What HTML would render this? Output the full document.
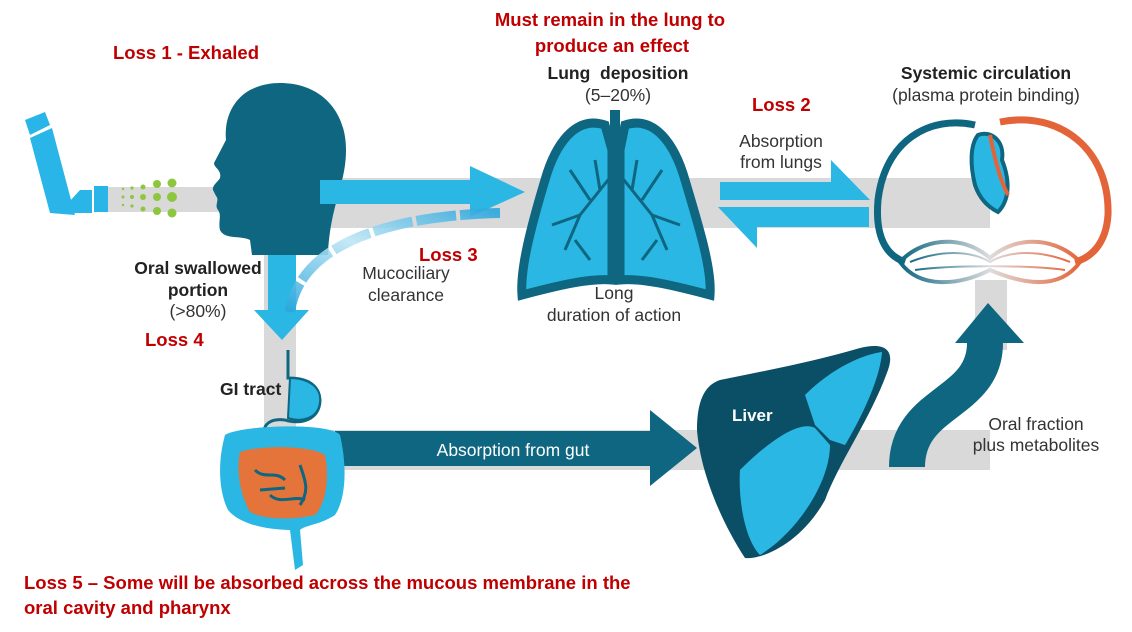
<!DOCTYPE html>
<html><head><meta charset="utf-8"><style>
html,body{margin:0;padding:0;background:#fff}
svg{display:block}
.r{font-family:"Liberation Sans",sans-serif;font-weight:bold;fill:#c00000;font-size:18.5px}
.t{font-family:"Liberation Sans",sans-serif;fill:#333;font-size:17.5px}
.b{font-family:"Liberation Sans",sans-serif;fill:#222;font-size:17.5px;font-weight:bold}
</style></head><body>
<svg width="1132" height="632" viewBox="0 0 1132 632" xmlns="http://www.w3.org/2000/svg">
<defs>
<linearGradient id="muc" x1="0" y1="1" x2="1" y2="0">
<stop offset="0" stop-color="#2aa6dd"/><stop offset="0.5" stop-color="#bfe6f5"/><stop offset="1" stop-color="#2aa6dd"/>
</linearGradient>
<linearGradient id="cap" x1="0" x2="1"><stop offset="0" stop-color="#0e6680"/><stop offset="0.5" stop-color="#ddd"/><stop offset="1" stop-color="#e4643a"/></linearGradient>
</defs>
<rect x="100" y="187" width="130" height="25" fill="#d9d9d9"/>
<rect x="300" y="178" width="690" height="50" fill="#d9d9d9"/>
<rect x="264" y="250" width="32" height="180" fill="#d9d9d9"/>
<rect x="975" y="280" width="32" height="70" fill="#d9d9d9"/>
<rect x="300" y="430" width="690" height="40" fill="#d9d9d9"/>

<path d="M25,120 L45,112 L50,125 L30,135 Z" fill="#29b5e8"/>
<path d="M30,138 L52,128 L75,215 L50,213 Z" fill="#29b5e8"/>
<path d="M59,213 L80,190 L92,190 L92,213 Z" fill="#29b5e8"/>
<rect x="94" y="186" width="14" height="26" fill="#29b5e8"/>
<g fill="#8dc63f">
<circle cx="123" cy="197" r="1.5"/><circle cx="123" cy="189" r="1.2"/><circle cx="123" cy="205" r="1.2"/>
<circle cx="132" cy="197" r="2"/><circle cx="132" cy="188" r="1.6"/><circle cx="132" cy="206" r="1.6"/>
<circle cx="143" cy="197" r="3"/><circle cx="143" cy="187" r="2.5"/><circle cx="143" cy="209" r="2.5"/>
<circle cx="157" cy="197" r="4"/><circle cx="157" cy="184" r="4"/><circle cx="157" cy="211" r="4"/>
<circle cx="172" cy="197" r="5"/><circle cx="172" cy="183" r="4.5"/><circle cx="172" cy="213" r="4.5"/>
</g>
<path d="M280,83 C320,83 346,110 346,150 C346,185 330,205 328,255 L252,255 L250,240 C240,235 225,240 220,230 C218,222 222,215 218,210 C214,205 220,200 216,196 L213,190 C212,185 218,182 220,178 C222,170 214,168 214,163 L226,140 C224,120 232,100 250,90 C260,85 270,83 280,83 Z" fill="#0e6680"/>
<path d="M320,180 L470,180 L470,166 L525,192 L470,217 L470,204 L320,204 Z" fill="#2ab7e4"/>
<path d="M268,255 L296,255 L296,310 L309,310 L282,340 L254,310 L268,310 Z" fill="#2ab7e4"/>
<path d="M500,213 C400,215 300,240 290,312" fill="none" stroke="url(#muc)" stroke-width="10" stroke-dasharray="40,4" opacity="0.9"/>

<g>
<rect x="610" y="110" width="10" height="60" fill="#0e6680"/>
<path d="M605,125 C575,115 555,145 545,180 C530,230 520,270 522,295 C560,285 590,278 612,280 L612,150 Z" fill="#2ab7e4" stroke="#0e6680" stroke-width="9"/>
<path d="M625,125 C655,115 675,145 685,180 C700,230 712,270 710,295 C672,285 642,278 620,280 L620,150 Z" fill="#2ab7e4" stroke="#0e6680" stroke-width="9"/>
<g stroke="#0e6680" stroke-width="3" fill="none">
<path d="M612,175 L580,215 L565,250 M580,215 L552,225 M590,200 L570,170 M575,240 L590,260 M600,190 L595,160"/>
<path d="M620,175 L652,215 L667,250 M652,215 L680,225 M642,200 L662,170 M657,240 L642,260 M632,190 L637,160"/>
</g>
</g>
<path d="M720,182 L831,182 L831,160 L870,200 L720,200 Z" fill="#2ab7e4"/>
<path d="M869,207 L869,227 L757,227 L757,248 L718,207 Z" fill="#2ab7e4"/>

<path d="M975,125 C930,115 885,140 878,200 C875,235 885,255 905,262" fill="none" stroke="#0e6680" stroke-width="7"/>
<path d="M1000,122 C1060,110 1110,150 1108,215 C1106,245 1090,258 1075,262" fill="none" stroke="#e4643a" stroke-width="7"/>
<path d="M900,262 C920,240 960,232 990,258 C1020,232 1060,240 1080,262 C1060,290 1025,285 990,270 C960,285 920,290 900,262 Z" fill="none" stroke="url(#cap)" stroke-width="4"/>
<path d="M910,262 C940,250 970,250 990,262 C1010,250 1040,250 1070,262 M915,270 C950,265 1030,265 1065,270" fill="none" stroke="url(#cap)" stroke-width="2"/>
<path d="M978,135 C990,130 1005,140 1002,160 C1010,180 1010,200 998,212 C990,208 980,200 975,185 C970,165 970,145 978,135 Z" fill="#2ab7e4" stroke="#0e6680" stroke-width="4"/>
<path d="M990,135 C995,160 1000,180 1008,195" fill="none" stroke="#e4643a" stroke-width="4"/>

<path d="M907,467 C907,400 985,405 985,343" fill="none" stroke="#0e6680" stroke-width="36"/>
<path d="M955,343 L1024,343 L988,303 Z" fill="#0e6680"/>

<path d="M335,431 L650,431 L650,410 L697,448 L650,486 L650,466 L335,466 Z" fill="#0e6680"/>

<path d="M720,380 C770,370 820,360 860,348 C885,342 895,350 888,370 C870,420 840,460 825,500 C800,545 760,560 745,558 C720,520 700,470 697,430 C697,400 705,385 720,380 Z" fill="#0a4f66"/>
<path d="M805,395 C830,370 860,355 882,352 C880,380 860,420 845,445 L830,440 L815,425 Z" fill="#2ab7e4"/>
<path d="M740,470 C770,440 800,420 815,428 L830,445 C830,480 800,530 760,555 C745,540 738,500 740,470 Z" fill="#2ab7e4"/>
<text x="732" y="421" font-family="Liberation Sans,sans-serif" font-size="17" font-weight="bold" fill="#fff">Liver</text>

<path d="M288,350 L288,378 C300,378 318,380 320,400 C320,420 300,425 285,420 C270,418 262,425 265,435" fill="none" stroke="#0e6680" stroke-width="3"/>
<path d="M290,378 C305,378 322,385 320,402 C318,420 300,422 288,418 Z" fill="#2ab7e4" stroke="#0e6680" stroke-width="2"/>
<path d="M225,435 C240,425 330,422 340,435 C348,470 345,500 335,515 C320,525 305,525 300,530 L303,565 L295,570 L290,530 C270,530 240,525 228,510 C218,490 218,460 225,435 Z" fill="#2ab7e4"/>
<path d="M240,452 C260,445 310,445 325,455 C330,480 325,505 315,515 C295,520 265,520 250,512 C240,495 236,470 240,452 Z" fill="#e4743a"/>
<path d="M255,470 C265,480 275,470 285,480 M270,495 C280,505 295,495 305,500 M300,465 C305,480 310,490 300,505 M260,490 L285,488" stroke="#0e6680" stroke-width="3" fill="none"/>

<text class="r" x="113" y="59">Loss 1 - Exhaled</text>
<text class="r" x="610" y="26" text-anchor="middle">Must remain in the lung to</text>
<text class="r" x="612" y="52" text-anchor="middle">produce an effect</text>
<text class="b" x="618" y="79" text-anchor="middle">Lung&#160; deposition</text>
<text class="t" x="618" y="101" text-anchor="middle">(5–20%)</text>
<text class="r" x="752" y="111">Loss 2</text>
<text class="t" x="781" y="147" text-anchor="middle">Absorption</text>
<text class="t" x="781" y="168" text-anchor="middle">from lungs</text>
<text class="b" x="986" y="79" text-anchor="middle">Systemic circulation</text>
<text class="t" x="986" y="101" text-anchor="middle">(plasma protein binding)</text>
<text class="r" x="419" y="261">Loss 3</text>
<text class="t" x="406" y="279" text-anchor="middle">Mucociliary</text>
<text class="t" x="406" y="301" text-anchor="middle">clearance</text>
<text class="b" x="198" y="274" text-anchor="middle">Oral swallowed</text>
<text class="b" x="198" y="296" text-anchor="middle">portion</text>
<text class="t" x="198" y="317" text-anchor="middle">(&gt;80%)</text>
<text class="r" x="145" y="346">Loss 4</text>
<text class="t" x="614" y="299" text-anchor="middle">Long</text>
<text class="t" x="614" y="321" text-anchor="middle">duration of action</text>
<text class="b" x="220" y="395">GI tract</text>
<text class="t" x="513" y="456" text-anchor="middle" style="fill:#fff">Absorption from gut</text>
<text class="t" x="1036" y="430" text-anchor="middle">Oral fraction</text>
<text class="t" x="1036" y="451" text-anchor="middle">plus metabolites</text>
<text class="r" x="24" y="589">Loss 5 – Some will be absorbed across the mucous membrane in the</text>
<text class="r" x="24" y="614">oral cavity and pharynx</text>
</svg>
</body></html>
